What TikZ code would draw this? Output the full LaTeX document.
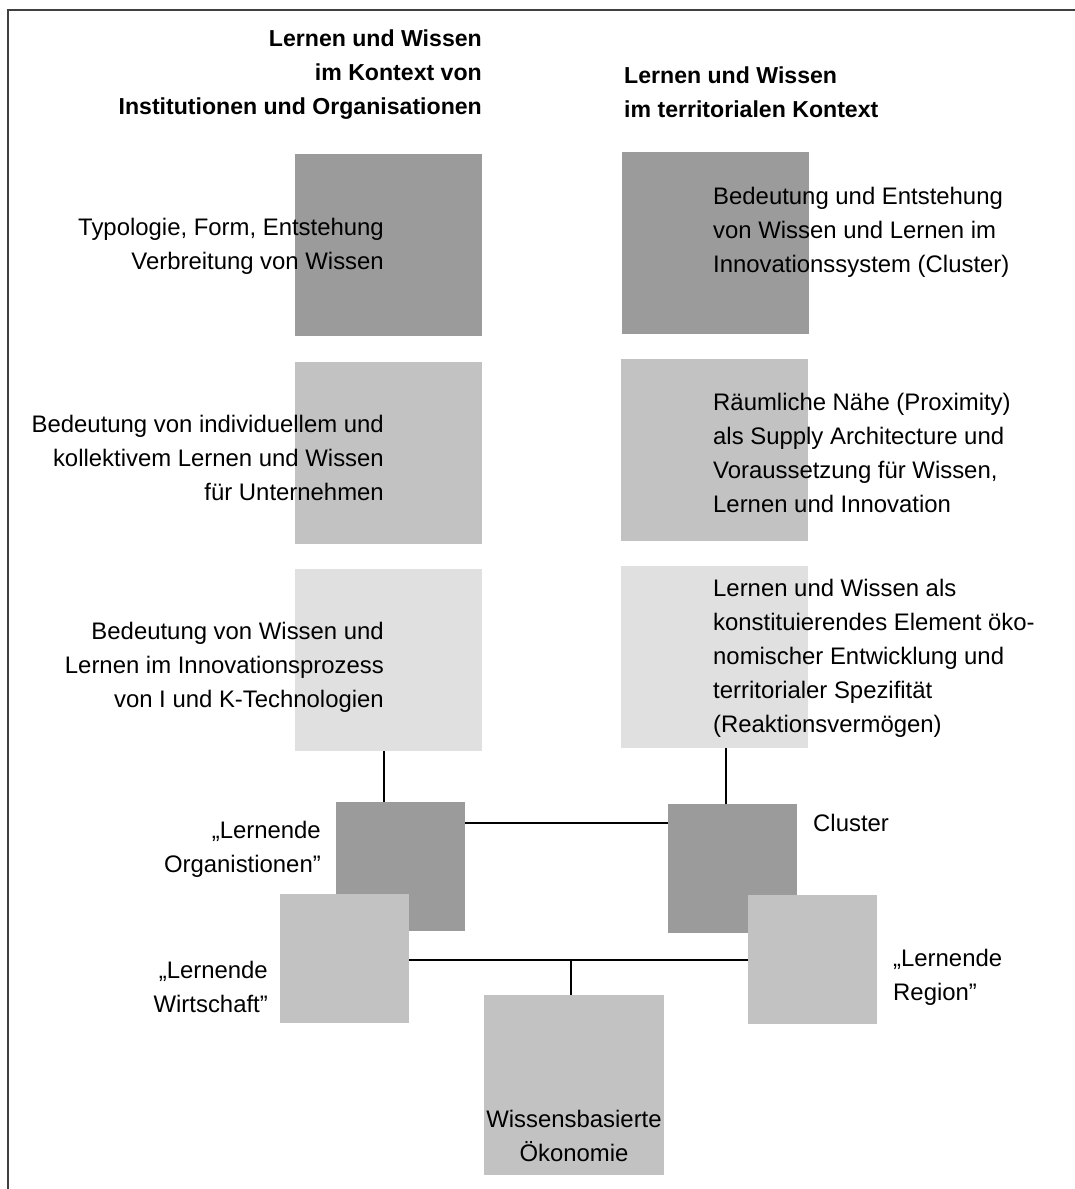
\documentclass[tikz,border=0pt]{standalone}
\usepackage{fontspec}
\setmainfont{Liberation Sans}
\usetikzlibrary{calc}
\definecolor{boxdark}{HTML}{9B9B9B}
\definecolor{boxmid}{HTML}{C2C2C2}
\definecolor{boxlight}{HTML}{E0E0E0}
\tikzset{
	field/.style={rectangle, anchor=north west, inner sep=0pt, outer sep=0pt, minimum width=187pt, minimum height=182pt},
	smallfield/.style={field, minimum width=129pt, minimum height=129pt},
	txt/.style={inner sep=0pt, font=\fontsize{23.9}{34}\selectfont},
	head/.style={inner sep=0pt, font=\fontsize{23.1}{34}\selectfont\bfseries},
	link/.style={line width=1.1pt}
}

\begin{document}
\begin{tikzpicture}[x=1pt,y=1pt,yscale=-1,xscale=1]
	\useasboundingbox (0,0) rectangle (1075,1189);
	\draw [line width=1.6pt, black!75]  (1075,10) -- (8,10) -- (8,1189) ;
	% Felder oben
	\node [field, fill=boxdark]  (a1) at (295,154) {};
	\node [field, fill=boxmid]   (a2) at (295,362) {};
	\node [field, fill=boxlight] (a3) at (295,569) {};
	\node [field, fill=boxdark]  (b1) at (622,152) {};
	\node [field, fill=boxmid]   (b2) at (621,359) {};
	\node [field, fill=boxlight] (b3) at (621,566) {};
	% Felder unten
	\node [smallfield, fill=boxdark] (lo) at (336,802) {};
	\node [smallfield, fill=boxdark] (cl) at (668,804) {};
	\node [smallfield, fill=boxmid]  (lw) at (280,894) {};
	\node [smallfield, fill=boxmid]  (lr) at (748,895) {};
	\node [field, fill=boxmid, minimum width=180pt, minimum height=180pt] (wo) at (484,995) {};
	% Verbindungen
	\coordinate (a3x) at ($(a3.south)+(-4.5,0)$);
	\coordinate (b3x) at ($(b3.south)+(11.5,0)$);
	\coordinate (wox) at ($(wo.north)+(-3,0)$);
	\draw [link]  (a3x) -- (a3x |- lo.north) ;
	\draw [link]  (b3x) -- (b3x |- cl.north) ;
	\draw [link]  ($(lo.north east)+(0,21)$) -- ($(cl.north west)+(0,19)$) ;
	\draw [link]  ($(lw.north east)+(0,66)$) -- ($(lr.north west)+(0,65)$) ;
	\draw [link]  (wox) -- (wox |- lw.east) ;
	% Texte
	\node [head, anchor=east, align=right] (hl) at (482,75) {Lernen und Wissen\\im Kontext von\\Institutionen und Organisationen};
	\node [head, anchor=west, align=left] (hr) at (624,92) {Lernen und Wissen\\im territorialen Kontext};
	\node [txt, anchor=east, align=right] (ta1) at (384,246) {Typologie, Form, Entstehung\\Verbreitung von Wissen};
	\node [txt, anchor=east, align=right] (ta2) at (384,458) {Bedeutung von individuellem und\\kollektivem Lernen und Wissen\\für Unternehmen};
	\node [txt, anchor=east, align=right] (ta3) at (384,667) {Bedeutung von Wissen und\\Lernen im Innovationsprozess\\von I und K-Technologien};
	\node [txt, anchor=west, align=left] (tb1) at (713,232) {Bedeutung und Entstehung\\von Wissen und Lernen im\\Innovationssystem (Cluster)};
	\node [txt, anchor=west, align=left] (tb2) at (713,453) {Räumliche Nähe (Proximity)\\als Supply Architecture und\\Voraussetzung für Wissen,\\Lernen und Innovation};
	\node [txt, anchor=west, align=left] (tb3) at (713,658) {Lernen und Wissen als\\konstituierendes Element öko-\\nomischer Entwicklung und\\territorialer Spezifität\\(Reaktionsvermögen)};
	\node [txt, anchor=east, align=right] (tlo) at (321,849) {„Lernende\\Organistionen”};
	\node [txt, anchor=west] (tcl) at (813,823) {Cluster};
	\node [txt, anchor=east, align=right] (tlw) at (268,987) {„Lernende\\Wirtschaft”};
	\node [txt, anchor=west, align=left] (tlr) at (893,977) {„Lernende\\Region”};
	\node [txt, align=center] (two) at (574,1136) {Wissensbasierte\\Ökonomie};
\end{tikzpicture}
\end{document}
